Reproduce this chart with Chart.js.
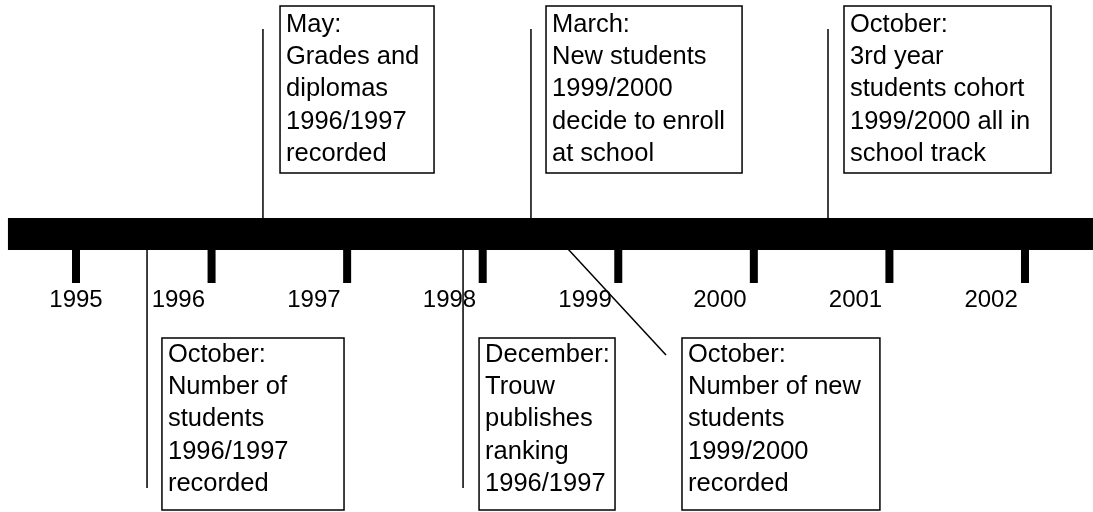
<!DOCTYPE html>
<html>
<head>
<meta charset="utf-8">
<title>Timeline</title>
<script src="https://cdn.jsdelivr.net/npm/chart.js@4.4.1/dist/chart.umd.min.js"></script>
<style>
  html, body { margin: 0; padding: 0; background: #fff; }
  #wrap { width: 1093px; height: 512px; }
</style>
</head>
<body>
<div id="wrap"><canvas id="timeline"></canvas></div>
<script>
// years on the time axis, and where their labels sit (labels are shifted left of the tick)
const years = [1995, 1996, 1997, 1998, 1999, 2000, 2001, 2002];
const yearLabelX = [1995.0, 1995.755, 1996.755, 1997.755, 1998.755, 1999.75, 2000.75, 2001.75];

// events: text, which side of the bar, leader line and box extent (x in years, y in rows from top)
const eventTexts = [
  ['May:', 'Grades and', 'diplomas', '1996/1997', 'recorded'],
  ['October:', 'Number of', 'students', '1996/1997', 'recorded'],
  ['December:', 'Trouw', 'publishes', 'ranking', '1996/1997'],
  ['March:', 'New students', '1999/2000', 'decide to enroll', 'at school'],
  ['October:', 'Number of new', 'students', '1999/2000', 'recorded'],
  ['October:', '3rd year', 'students cohort', '1999/2000 all in', 'school track']
];
const eventSide = ['above', 'below', 'below', 'above', 'below', 'above'];
const leaderStartX = [1996.379, 1995.524, 1997.855, 1998.356, 1998.629, 2000.547];
const leaderEndX   = [1996.379, 1995.524, 1997.855, 1998.356, 1999.352, 2000.547];
const leaderEndY   = [29, 488, 488, 29, 355, 29];
const boxLeft  = [1996.505, 1995.634, 1997.973, 1998.467, 1999.470, 2000.665];
const boxRight = [1997.641, 1996.977, 1998.976, 1999.913, 2000.930, 2002.192];

// vertical layout (rows counted from the top)
const barTop = 218, barBottom = 250, tickBottom = 283, yearBaseline = 307;
const boxTopAbove = 6, boxBottomAbove = 173, boxTopBelow = 338, boxBottomBelow = 510;
const firstLineAbove = 32, firstLineBelow = 362, lineStep = 32.2;

const xMin = 1994.4394, xMax = 2002.5017, barStart = 1994.498;

const datasets = [];

// the thick time bar
datasets.push({
  data: [{ x: barStart, y: (barTop + barBottom) / 2 }, { x: xMax, y: (barTop + barBottom) / 2 }],
  borderWidth: barBottom - barTop
});

// year ticks under the bar
years.forEach(yr => {
  datasets.push({
    data: [{ x: yr, y: barBottom - 1 }, { x: yr, y: tickBottom }],
    borderWidth: 8
  });
});

// leader lines from the bar to each box
eventTexts.forEach((t, i) => {
  const startY = eventSide[i] === 'above' ? barTop + 1 : barBottom - 1;
  datasets.push({
    data: [{ x: leaderStartX[i], y: startY }, { x: leaderEndX[i], y: leaderEndY[i] }],
    borderWidth: 1.5
  });
});

datasets.forEach(d => {
  d.showLine = true;
  d.pointRadius = 0;
  d.borderColor = '#000';
  d.borderCapStyle = 'butt';
  d.tension = 0;
});

// year labels and annotation boxes
const annotationPlugin = {
  id: 'annotations',
  afterDatasetsDraw(chart) {
    const ctx = chart.ctx;
    const xs = chart.scales.x, ys = chart.scales.y;
    ctx.save();
    ctx.fillStyle = '#000';
    ctx.strokeStyle = '#000';

    ctx.font = '24px "Liberation Sans", Arial, sans-serif';
    ctx.textAlign = 'center';
    ctx.textBaseline = 'alphabetic';
    years.forEach((yr, i) => {
      ctx.fillText(String(yr), xs.getPixelForValue(yearLabelX[i]), ys.getPixelForValue(yearBaseline));
    });

    ctx.font = '25.5px "Liberation Sans", Arial, sans-serif';
    ctx.textAlign = 'left';
    ctx.lineWidth = 1.5;
    eventTexts.forEach((lines, i) => {
      const above = eventSide[i] === 'above';
      const left = xs.getPixelForValue(boxLeft[i]);
      const right = xs.getPixelForValue(boxRight[i]);
      const top = ys.getPixelForValue(above ? boxTopAbove : boxTopBelow);
      const bottom = ys.getPixelForValue(above ? boxBottomAbove : boxBottomBelow);
      ctx.strokeRect(left, top, right - left, bottom - top);
      const first = above ? firstLineAbove : firstLineBelow;
      lines.forEach((txt, j) => {
        ctx.fillText(txt, left + 6, ys.getPixelForValue(first + j * lineStep));
      });
    });
    ctx.restore();
  }
};

new Chart(document.getElementById('timeline'), {
  type: 'scatter',
  data: { datasets: datasets },
  options: {
    responsive: true,
    maintainAspectRatio: false,
    animation: false,
    layout: { padding: 0 },
    scales: {
      x: { type: 'linear', display: false, min: xMin, max: xMax },
      y: { type: 'linear', display: false, min: 0, max: 512, reverse: true }
    },
    plugins: {
      legend: { display: false },
      tooltip: { enabled: false }
    }
  },
  plugins: [annotationPlugin]
});
</script>
</body>
</html>
